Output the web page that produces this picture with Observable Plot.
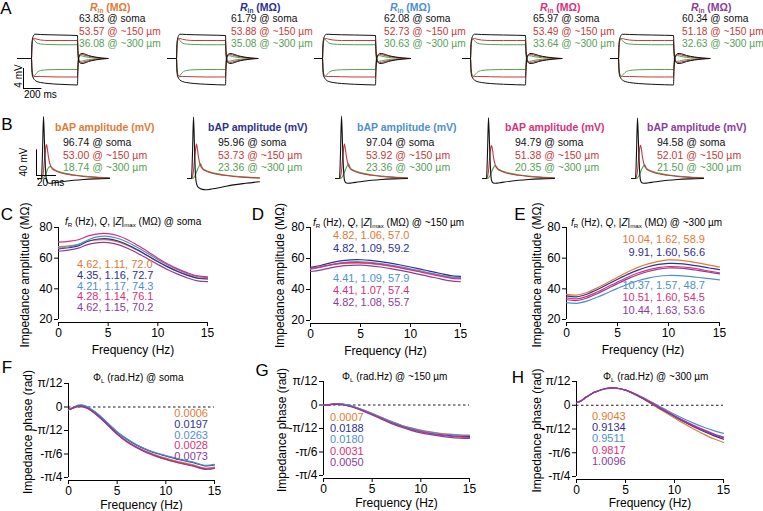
<!DOCTYPE html>
<html>
<head>
<meta charset="utf-8">
<script src="https://cdn.jsdelivr.net/npm/d3@7"></script>
<script src="https://cdn.jsdelivr.net/npm/@observablehq/plot@0.6"></script>
<style>
html,body{margin:0;padding:0;background:#fff;}
#fig{position:relative;width:763px;height:511px;overflow:hidden;background:#fff;font-family:"Liberation Sans",Arial,Helvetica,sans-serif;}
.p{position:absolute;}
.p svg{overflow:visible;display:block;}
.t{position:absolute;white-space:nowrap;line-height:1;}
.t sub{font-size:0.62em;vertical-align:-0.3em;line-height:0;}
</style>
</head>
<body>
<div id="fig"></div>
<script>
// ---------------- DATA ----------------
const modelColors = ["#df7a35", "#2e3192", "#4f8fcf", "#d8317a", "#8a3d9c"];
const locColors = ["#111111", "#c33b3b", "#55a155"];
const locLabels = ["soma", "~150 µm", "~300 µm"];

// Panel A: input resistance (MΩ)
const rinSoma = [63.83, 61.79, 62.08, 65.97, 60.34];
const rin150 = [53.57, 53.88, 52.73, 53.49, 51.18];
const rin300 = [36.08, 35.08, 30.63, 33.64, 32.63];
// step responses (ms from step onset, mV from rest)
const stepTime = [0, 4, 10, 20, 35, 60, 100, 180, 300, 420, 500, 504, 510, 520, 540, 570, 620, 690, 760, 830];
const vSomaDep = [0, 2.5, 3.8, 4.5, 4.85, 4.85, 4.8, 4.75, 4.7, 4.65, 4.6, 2.0, 0.2, -0.7, -1.0, -0.95, -0.6, -0.3, -0.1, 0];
const vSomaHyp = [0, -2.0, -3.2, -3.9, -4.3, -4.6, -4.8, -5.0, -5.15, -5.25, -5.3, -2.6, -0.5, 0.6, 1.0, 0.95, 0.6, 0.3, 0.1, 0];
const v150Dep = [0, 2.0, 3.3, 3.9, 4.0, 3.85, 3.7, 3.6, 3.6, 3.6, 3.6, 1.6, 0.2, -0.5, -0.8, -0.7, -0.45, -0.22, -0.07, 0];
const v150Hyp = [0, -1.8, -2.9, -3.4, -3.6, -3.6, -3.6, -3.65, -3.7, -3.7, -3.7, -1.7, -0.3, 0.45, 0.8, 0.7, 0.45, 0.22, 0.07, 0];
const v300Dep = [0, 2.5, 3.8, 4.0, 3.6, 3.1, 2.9, 2.8, 2.75, 2.75, 2.75, 1.0, -0.2, -0.55, -0.55, -0.4, -0.22, -0.1, -0.03, 0];
const v300Hyp = [0, -2.5, -3.6, -3.8, -3.4, -2.8, -2.4, -2.25, -2.2, -2.2, -2.2, -0.8, 0.2, 0.55, 0.55, 0.4, 0.22, 0.1, 0.03, 0];

// Panel B: bAP amplitude (mV)
const bapSoma = [96.74, 95.96, 97.04, 94.79, 94.58];
const bap150 = [53.00, 53.73, 53.92, 51.38, 52.01];
const bap300 = [18.74, 23.36, 23.36, 20.35, 21.50];
// spike shapes (ms from spike onset, mV from rest); "P" = the cell's bAP amplitude
const spikeTime = [-4, 0, 1, 2, 3, 4, 5, 6, 7, 9, 11, 14, 18, 24, 32, 42, 54, 68];
const vSpikeSoma = [0, 0, 40, "P", 55, 15, -3, -6, -7, -7.5, -7.2, -6.5, -5.5, -4.2, -2.8, -1.5, -0.6, -0.1];
const vSpikeSomaDeep = [0, 0, 40, "P", 50, 5, -8, -12, -14, -16, -17, -17.5, -17, -15.5, -13, -10, -7.5, -5];
const vSpike150 = [0, 0, 3, 12, 30, 45, "P", 45, 33, 20, 15, 12, 9.5, 7, 5, 3.2, 1.8, 0.8];
const vSpike300 = [0, 0, 0, 1, 3, 6, 10, 14, 17, "P", 16, 13, 10.5, 8, 5.8, 3.8, 2.2, 1];
const bSomaShapes = [vSpikeSoma, vSpikeSomaDeep, vSpikeSoma, vSpikeSoma, vSpikeSoma];

// Panels C-E: impedance amplitude (MΩ)
const freqZ = [0, 1, 2, 3, 4, 5, 6, 7, 8, 9, 10, 11, 12, 13, 14, 15];
const zSoma1 = [67.5, 68.0, 69.0, 71.2, 71.9, 71.9, 70.6, 68.2, 65.0, 61.4, 57.7, 54.3, 51.4, 48.9, 47.1, 46.6];
const zSoma2 = [66.0, 66.8, 68.0, 71.0, 72.5, 72.6, 71.2, 68.6, 65.3, 61.6, 57.8, 54.3, 51.3, 48.8, 46.9, 46.4];
const zSoma3 = [66.5, 67.3, 68.8, 72.0, 74.0, 74.2, 72.8, 70.2, 66.8, 63.0, 59.1, 55.5, 52.4, 49.8, 47.9, 47.3];
const zSoma4 = [70.5, 71.0, 72.0, 74.5, 75.9, 76.0, 74.6, 71.8, 68.2, 64.2, 60.0, 56.2, 53.0, 50.4, 48.4, 47.8];
const zSoma5 = [64.5, 65.2, 66.5, 69.0, 70.1, 70.1, 68.8, 66.3, 63.1, 59.5, 55.9, 52.5, 49.6, 47.1, 45.2, 44.7];
const z150_1 = [53.8, 54.6, 55.8, 56.6, 57.0, 57.0, 56.7, 56.0, 55.1, 54.0, 52.8, 51.5, 50.2, 48.9, 47.7, 47.2];
const z150_2 = [54.3, 55.5, 57.2, 58.5, 59.1, 59.2, 58.8, 58.0, 57.0, 55.8, 54.5, 53.1, 51.7, 50.3, 49.0, 48.5];
const z150_3 = [53.1, 54.3, 55.9, 57.2, 57.8, 57.9, 57.5, 56.7, 55.7, 54.6, 53.3, 52.0, 50.6, 49.3, 48.1, 47.6];
const z150_4 = [53.6, 54.5, 55.9, 56.9, 57.3, 57.4, 57.0, 56.2, 55.2, 54.0, 52.7, 51.3, 49.9, 48.6, 47.3, 46.8];
const z150_5 = [51.6, 52.5, 54.0, 55.1, 55.6, 55.7, 55.3, 54.5, 53.5, 52.3, 51.0, 49.6, 48.2, 46.8, 45.6, 45.0];
const z300_1 = [36.4, 35.9, 37.6, 40.6, 44.0, 47.6, 51.0, 54.0, 56.3, 57.9, 58.9, 58.7, 57.9, 56.8, 55.5, 54.2];
const z300_2 = [35.4, 34.8, 36.5, 39.4, 42.8, 46.2, 49.4, 52.2, 54.4, 55.9, 56.6, 56.5, 55.8, 54.8, 53.6, 52.5];
const z300_3 = [31.0, 30.5, 32.0, 34.5, 37.4, 40.3, 43.0, 45.3, 47.0, 48.2, 48.7, 48.6, 48.1, 47.4, 46.6, 45.9];
const z300_4 = [34.1, 33.5, 35.1, 37.9, 41.2, 44.5, 47.6, 50.3, 52.4, 53.8, 54.5, 54.4, 53.8, 52.8, 51.6, 50.5];
const z300_5 = [32.9, 32.4, 34.0, 36.8, 40.1, 43.4, 46.5, 49.2, 51.3, 52.9, 53.6, 53.5, 52.9, 51.9, 50.8, 49.7];
const fRSoma = [4.62, 4.35, 4.21, 4.28, 4.62], qSoma = [1.11, 1.16, 1.17, 1.14, 1.15], zMaxSoma = [72.0, 72.7, 74.3, 76.1, 70.2];
const fR150 = [4.82, 4.82, 4.41, 4.41, 4.82], q150 = [1.06, 1.09, 1.09, 1.07, 1.08], zMax150 = [57.0, 59.2, 57.9, 57.4, 55.7];
const fR300 = [10.04, 9.91, 10.37, 10.51, 10.44], q300 = [1.62, 1.60, 1.57, 1.60, 1.63], zMax300 = [58.9, 56.6, 48.7, 54.5, 53.6];

// Panels F-H: impedance phase (rad)
const freqPh = [0, 0.5, 1, 1.5, 2, 3, 4, 5, 6, 7, 8, 9, 10, 11, 12, 13, 14, 15];
const phSoma1 = [-0.03, -0.01, 0.005, 0.0, -0.02, -0.095, -0.195, -0.295, -0.38, -0.445, -0.495, -0.535, -0.57, -0.60, -0.625, -0.65, -0.68, -0.67];
const phSoma2 = [-0.03, -0.01, 0.015, 0.015, -0.005, -0.08, -0.18, -0.28, -0.36, -0.425, -0.475, -0.515, -0.545, -0.575, -0.60, -0.625, -0.655, -0.645];
const phSoma3 = [-0.03, -0.005, 0.02, 0.02, 0.0, -0.075, -0.175, -0.275, -0.355, -0.42, -0.47, -0.51, -0.54, -0.57, -0.595, -0.62, -0.65, -0.64];
const phSoma4 = [-0.03, -0.01, 0.005, 0.0, -0.02, -0.10, -0.20, -0.305, -0.39, -0.455, -0.51, -0.55, -0.585, -0.615, -0.64, -0.665, -0.695, -0.685];
const phSoma5 = [-0.03, -0.01, 0.01, 0.005, -0.015, -0.095, -0.195, -0.30, -0.385, -0.45, -0.50, -0.545, -0.58, -0.61, -0.635, -0.66, -0.69, -0.68];
const ph150_1 = [0, 0.003, 0.008, 0.01, 0.005, -0.02, -0.055, -0.095, -0.14, -0.185, -0.225, -0.255, -0.28, -0.30, -0.315, -0.325, -0.332, -0.335];
const ph150_2 = [0, 0.004, 0.012, 0.014, 0.01, -0.015, -0.055, -0.10, -0.15, -0.195, -0.235, -0.268, -0.295, -0.315, -0.33, -0.342, -0.35, -0.353];
const ph150_3 = [0, 0.004, 0.012, 0.014, 0.01, -0.015, -0.05, -0.095, -0.14, -0.185, -0.225, -0.258, -0.285, -0.305, -0.32, -0.33, -0.337, -0.34];
const ph150_4 = [0, 0.002, 0.006, 0.008, 0.003, -0.022, -0.06, -0.105, -0.155, -0.20, -0.24, -0.273, -0.30, -0.32, -0.336, -0.348, -0.356, -0.36];
const ph150_5 = [0, 0.002, 0.006, 0.008, 0.003, -0.025, -0.065, -0.11, -0.16, -0.207, -0.248, -0.282, -0.31, -0.33, -0.347, -0.36, -0.368, -0.372];
const ph300_1 = [0.03, 0.05, 0.09, 0.125, 0.15, 0.185, 0.19, 0.165, 0.115, 0.055, -0.01, -0.075, -0.14, -0.205, -0.265, -0.32, -0.37, -0.41];
const ph300_2 = [0.03, 0.05, 0.09, 0.125, 0.15, 0.185, 0.19, 0.167, 0.12, 0.062, 0.0, -0.063, -0.125, -0.185, -0.24, -0.29, -0.335, -0.375];
const ph300_3 = [0.03, 0.05, 0.09, 0.125, 0.15, 0.18, 0.187, 0.168, 0.127, 0.073, 0.015, -0.043, -0.10, -0.152, -0.20, -0.243, -0.28, -0.31];
const ph300_4 = [0.03, 0.05, 0.09, 0.125, 0.15, 0.185, 0.19, 0.167, 0.122, 0.066, 0.005, -0.055, -0.115, -0.172, -0.225, -0.272, -0.315, -0.352];
const ph300_5 = [0.03, 0.05, 0.09, 0.125, 0.15, 0.185, 0.19, 0.167, 0.121, 0.064, 0.002, -0.059, -0.12, -0.178, -0.232, -0.28, -0.323, -0.36];
const phiLSoma = [0.0006, 0.0197, 0.0263, 0.0028, 0.0073];
const phiL150 = [0.0007, 0.0188, 0.0180, 0.0031, 0.0050];
const phiL300 = [0.9043, 0.9134, 0.9511, 0.9817, 1.0096];

const zTicks = [20, 40, 60, 80];
const freqTicks = [0, 5, 10, 15];
const phaseTickValues = [Math.PI / 12, 0, -Math.PI / 12, -Math.PI / 6, -Math.PI / 4];
const phaseTickLabels = ["π/12", "0", "-π/12", "-π/6", "-π/4"];

// ---------------- DRAWING ----------------
const FONT = '"Liberation Sans", Arial, Helvetica, sans-serif';
const fig = document.getElementById("fig");

function plotAt(left, top, width, height, options) {
  const svg = Plot.plot(Object.assign({width, height}, options, {
    style: {background: "none", fontFamily: FONT, fontSize: "11px", color: "#000", overflow: "visible"}
  }));
  const wrap = document.createElement("div");
  wrap.className = "p";
  Object.assign(wrap.style, {left: left + "px", top: top + "px", width: width + "px", height: height + "px"});
  wrap.appendChild(svg);
  fig.appendChild(wrap);
}

function text(html, x, y, {size = 10.5, color = "#000", bold = false, anchor = "start", rotate = false} = {}) {
  const d = document.createElement("div");
  d.className = "t";
  d.innerHTML = html;
  Object.assign(d.style, {left: x + "px", top: y + "px", fontSize: size + "px", color, fontWeight: bold ? "bold" : "normal"});
  const tx = anchor === "end" ? "-100%" : (anchor === "middle" || rotate) ? "-50%" : "0";
  d.style.transform = `translate(${tx}, -50%)` + (rotate ? " rotate(-90deg)" : "");
  fig.appendChild(d);
}

// Panel letters
[["A", 6, 8], ["B", 7, 124], ["C", 7, 214], ["D", 258, 214], ["E", 520, 214], ["F", 7, 367], ["G", 262, 370], ["H", 518, 377]]
  .forEach(([l, x, y]) => text(l, x, y, {size: 17, anchor: "middle"}));

// ---- Panel A ----
const aCells = [{x0: 17, xs: 31, xe: 77}, {x0: 167, xs: 176, xe: 225}, {x0: 314, xs: 322, xe: 375}, {x0: 462, xs: 470, xe: 525}, {x0: 610, xs: 618, xe: 673}];
const A_BASE = 58, A_TOP = 20, A_H = 80;
const aTraces = [[v300Dep, 2], [v300Hyp, 2], [v150Dep, 1], [v150Hyp, 1], [vSomaDep, 0], [vSomaHyp, 0]];
aCells.forEach((cell, i) => {
  const left = cell.x0 - 10, width = 130;
  const pxPerMs = (cell.xe - cell.xs) / 500;
  const leadT = (cell.x0 - cell.xs) / pxPerMs;
  const marks = aTraces.map(([arr, loc]) =>
    Plot.line([{t: leadT, v: 0}].concat(stepTime.map((t, k) => ({t, v: arr[k]}))),
      {x: "t", y: "v", stroke: locColors[loc], strokeWidth: 1, curve: "monotone-x"}));
  if (i === 0) {
    const barT = (23 - cell.xs) / pxPerMs, barV = -6;
    marks.push(Plot.ruleX([barT], {y1: barV, y2: barV + 4, stroke: "#000"}));
    marks.push(Plot.ruleY([barV], {x1: barT, x2: barT + 200, stroke: "#000"}));
  }
  plotAt(left, A_TOP, width, A_H, {
    axis: null, margin: 0,
    x: {domain: [0, 500], range: [cell.xs - left, cell.xe - left]},
    y: {domain: [-5, 5], range: [A_BASE - A_TOP + 25, A_BASE - A_TOP - 25]},
    marks
  });
});
const aTitleX = [90, 240, 390, 540, 691], aValX = [79, 231, 384, 533, 682];
aCells.forEach((c, i) => {
  text(`<i>R</i><sub>in</sub> (MΩ)`, aTitleX[i], 6.5, {bold: true, color: modelColors[i]});
  [rinSoma, rin150, rin300].forEach((arr, k) =>
    text(`${arr[i].toFixed(2)} @ ${locLabels[k]}`, aValX[i], [19, 31.5, 44][k], {color: locColors[k], size: 10.2}));
});
text("4 mV", 19, 76, {rotate: true, size: 10});
text("200 ms", 24, 95, {size: 10});

// ---- Panel B ----
const bOnsetX = [41, 191, 339, 486, 635];
const B_BASE = 178, B_TOP = 100, B_H = 95;
bOnsetX.forEach((x0, i) => {
  const left = x0 - 12;
  const shapes = [[vSpike300, bap300[i], 2], [vSpike150, bap150[i], 1], [bSomaShapes[i], bapSoma[i], 0]];
  const marks = shapes.map(([arr, amp, loc]) =>
    Plot.line(spikeTime.map((t, k) => ({t, v: arr[k] === "P" ? amp : arr[k]})),
      {x: "t", y: "v", stroke: locColors[loc], strokeWidth: 1.1, curve: "monotone-x"}));
  if (i === 0) {
    const bt = -5, bv = 4.7;
    marks.push(Plot.ruleX([bt], {y1: bv, y2: bv + 40, stroke: "#000"}));
    marks.push(Plot.ruleY([bv], {x1: bt, x2: bt + 20, stroke: "#000"}));
  }
  plotAt(left, B_TOP, 95, B_H, {
    axis: null, margin: 0,
    x: {domain: [0, 50], range: [12, 62]},
    y: {domain: [0, 100], range: [B_BASE - B_TOP, B_BASE - B_TOP - 64]},
    marks
  });
});
const bTitleX = [55, 208, 357, 505, 647], bValX = [63, 218, 366, 515, 657];
bOnsetX.forEach((c, i) => {
  text("bAP amplitude (mV)", bTitleX[i], 127, {bold: true, color: modelColors[i]});
  [bapSoma, bap150, bap300].forEach((arr, k) =>
    text(`${arr[i].toFixed(2)} @ ${locLabels[k]}`, bValX[i], [142, 154.5, 167][k], {color: locColors[k]}));
});
text("40 mV", 24, 162, {rotate: true, size: 10});
text("20 ms", 37, 183, {size: 10});

// ---- Panels C-H ----
function freqPanel({left, top, width, height, ml, mr, mt, mb, freq, series, yDomain, yTicks, yFormat, yLabel, ylo, xlo, zero}) {
  const marks = [
    Plot.ruleX([0], {y1: yDomain[0], y2: yDomain[1], stroke: "#000"}),
    Plot.ruleY([yDomain[0]], {x1: 0, x2: 15, dy: 3, stroke: "#000"}),
    Plot.axisX({ticks: freqTicks, tickSize: 4, tickPadding: 2, fontSize: 12, label: "Frequency (Hz)", labelAnchor: "center", labelArrow: "none", labelOffset: xlo}),
    Plot.axisY({ticks: yTicks, tickFormat: yFormat, tickSize: 4, tickPadding: 2, fontSize: 12, label: yLabel, labelAnchor: "center", labelArrow: "none", labelOffset: ylo})
  ];
  if (zero) marks.push(Plot.ruleY([0], {x1: 0, x2: 15, stroke: "#000", strokeWidth: 0.9, strokeDasharray: "2.5,2.5"}));
  series.forEach((vals, k) => marks.push(Plot.line(freq.map((f, j) => ({f, v: vals[j]})),
    {x: "f", y: "v", stroke: modelColors[k], strokeWidth: 1.2, curve: "catmull-rom"})));
  plotAt(left, top, width, height, {
    marginLeft: ml, marginRight: mr, marginTop: mt, marginBottom: mb,
    x: {domain: [0, 15]}, y: {domain: yDomain, insetBottom: 3}, marks
  });
}
const zLabel = "Impedance amplitude (MΩ)", pLabel = "Impedance phase (rad)";
const phFmt = d => phaseTickLabels[phaseTickValues.indexOf(d)];
freqPanel({left: 0, top: 200, width: 225, height: 160, ml: 58, mr: 18, mt: 27, mb: 38, freq: freqZ,
  series: [zSoma1, zSoma2, zSoma3, zSoma4, zSoma5], yDomain: [20, 80], yTicks: zTicks, yLabel: zLabel, ylo: 38, xlo: 31.5});
freqPanel({left: 250, top: 200, width: 230, height: 160, ml: 60, mr: 20, mt: 27, mb: 37, freq: freqZ,
  series: [z150_1, z150_2, z150_3, z150_4, z150_5], yDomain: [20, 80], yTicks: zTicks, yLabel: zLabel, ylo: 35, xlo: 31.5});
freqPanel({left: 505, top: 200, width: 258, height: 160, ml: 61, mr: 44, mt: 27, mb: 38, freq: freqZ,
  series: [z300_1, z300_2, z300_3, z300_4, z300_5], yDomain: [20, 80], yTicks: zTicks, yLabel: zLabel, ylo: 34, xlo: 31.5});
const phDom = [-Math.PI / 4, Math.PI / 12];
freqPanel({left: 0, top: 370, width: 225, height: 141, ml: 68, mr: 11, mt: 13, mb: 31, freq: freqPh,
  series: [phSoma1, phSoma2, phSoma3, phSoma4, phSoma5], yDomain: phDom, yTicks: phaseTickValues, yFormat: phFmt, yLabel: pLabel, ylo: 45, xlo: 28.5, zero: true});
freqPanel({left: 250, top: 370, width: 230, height: 141, ml: 73, mr: 11, mt: 11, mb: 33, freq: freqPh,
  series: [ph150_1, ph150_2, ph150_3, ph150_4, ph150_5], yDomain: phDom, yTicks: phaseTickValues, yFormat: phFmt, yLabel: pLabel, ylo: 46, xlo: 28.5, zero: true});
freqPanel({left: 505, top: 370, width: 258, height: 141, ml: 71, mr: 40, mt: 11, mb: 32, freq: freqPh,
  series: [ph300_1, ph300_2, ph300_3, ph300_4, ph300_5], yDomain: phDom, yTicks: phaseTickValues, yFormat: phFmt, yLabel: pLabel, ylo: 44, xlo: 27, zero: true});

// annotations C-E
const zTitle = loc => `<i>f</i><sub>R</sub> (Hz), <i>Q</i>, |<i>Z</i>|<sub>max</sub> (MΩ) @ ${loc}`;
text(zTitle("soma"), 65, 222, {size: 10});
text(zTitle("~150 µm"), 313, 223, {size: 10});
text(zTitle("~300 µm"), 571, 223, {size: 10});
const fmtZ = (f, q, z, i) => `${f[i].toFixed(2)}, ${q[i].toFixed(2)}, ${z[i].toFixed(1)}`;
const cY = [264, 274.8, 285.6, 296.4, 307.2], dY = [235, 247.5, 278, 290, 302], eY = [239, 252, 284.5, 297, 310];
modelColors.forEach((col, i) => {
  text(fmtZ(fRSoma, qSoma, zMaxSoma, i), 77, cY[i], {color: col, size: 11});
  text(fmtZ(fR150, q150, zMax150, i), 333, dY[i], {color: col, size: 11});
  text(fmtZ(fR300, q300, zMax300, i), 705, eY[i], {color: col, size: 11, anchor: "end"});
});
// annotations F-H
const pTitle = loc => `Φ<sub>L</sub> (rad.Hz) @ ${loc}`;
text(pTitle("soma"), 93, 378, {size: 10});
text(pTitle("~150 µm"), 342, 377, {size: 10});
text(pTitle("~300 µm"), 603, 377, {size: 10});
const fY = [413, 423.8, 434.6, 445.4, 456.2], gY = [417, 428.2, 439.4, 450.6, 461.8], hY = [416, 427.2, 438.4, 449.6, 460.8];
modelColors.forEach((col, i) => {
  text(phiLSoma[i].toFixed(4), 208, fY[i], {color: col, size: 11, anchor: "end"});
  text(phiL150[i].toFixed(4), 330, gY[i], {color: col, size: 11});
  text(phiL300[i].toFixed(4), 592, hY[i], {color: col, size: 11});
});
</script>
</body>
</html>
